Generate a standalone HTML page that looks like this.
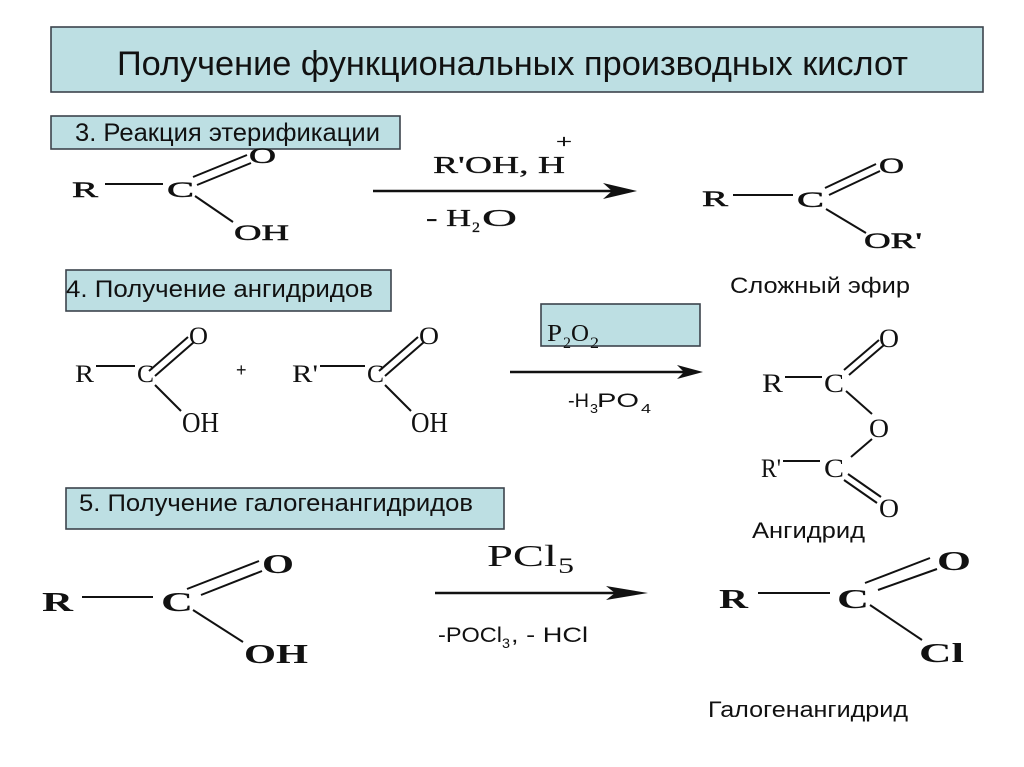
<!DOCTYPE html>
<html><head><meta charset="utf-8"><style>
html,body{margin:0;padding:0;background:#fff;}
svg{display:block;}
.s{font-family:"Liberation Sans","DejaVu Sans",sans-serif;fill:#111;}
.r{font-family:"Liberation Serif","DejaVu Serif",serif;fill:#111;}
.b{stroke:#111;stroke-width:2;fill:none;}
.box{fill:#bddfe3;stroke:#3c444c;stroke-width:1.6;}
</style></head><body>
<svg width="1024" height="767" viewBox="0 0 1024 767" xmlns="http://www.w3.org/2000/svg">
<rect x="0" y="0" width="1024" height="767" fill="#fff"/>

<!-- Title -->
<rect class="box" x="51" y="27" width="932" height="65"/>
<text class="s" x="117" y="75" font-size="34" textLength="791" lengthAdjust="spacingAndGlyphs">Получение функциональных производных кислот</text>

<!-- Section 3 -->
<rect class="box" x="51" y="116" width="349" height="33"/>
<text class="s" x="75" y="141" font-size="25" textLength="305" lengthAdjust="spacingAndGlyphs">3. Реакция этерификации</text>

<g class="r" font-size="22" stroke="#111" stroke-width="0.5">
<text x="72" y="197" textLength="26" lengthAdjust="spacingAndGlyphs">R</text>
<text x="167" y="197" textLength="27" lengthAdjust="spacingAndGlyphs">C</text>
<text x="249" y="163" textLength="27" lengthAdjust="spacingAndGlyphs">O</text>
<text x="234" y="240" textLength="55" lengthAdjust="spacingAndGlyphs">OH</text>
</g>
<line class="b" x1="105" y1="184" x2="163" y2="184"/>
<line class="b" x1="193" y1="177" x2="247" y2="155"/>
<line class="b" x1="197" y1="185" x2="251" y2="163"/>
<line class="b" x1="195" y1="196" x2="233" y2="222"/>

<line x1="373" y1="191" x2="612" y2="191" stroke="#111" stroke-width="2.5"/>
<polygon points="637,191 603,183 612,191 603,199" fill="#111"/>
<g class="r" font-size="24" stroke="#111" stroke-width="0.3">
<text x="433" y="173" textLength="132" lengthAdjust="spacingAndGlyphs">R'OH, H</text>
<text x="556" y="148" font-size="19" textLength="16" lengthAdjust="spacingAndGlyphs">+</text>
<text x="426" y="226" textLength="45" lengthAdjust="spacingAndGlyphs">- H</text>
<text x="472" y="232" font-size="15" textLength="8" lengthAdjust="spacingAndGlyphs">2</text>
<text x="482" y="226" textLength="35" lengthAdjust="spacingAndGlyphs">O</text>
</g>

<g class="r" font-size="22" stroke="#111" stroke-width="0.5">
<text x="702" y="206" textLength="26" lengthAdjust="spacingAndGlyphs">R</text>
<text x="797" y="207" textLength="27" lengthAdjust="spacingAndGlyphs">C</text>
<text x="879" y="173" textLength="25" lengthAdjust="spacingAndGlyphs">O</text>
<text x="864" y="248" textLength="58" lengthAdjust="spacingAndGlyphs">OR'</text>
</g>
<line class="b" x1="733" y1="195" x2="793" y2="195"/>
<line class="b" x1="825" y1="188" x2="876" y2="164"/>
<line class="b" x1="829" y1="195" x2="880" y2="171"/>
<line class="b" x1="826" y1="209" x2="866" y2="233"/>
<text class="s" x="730" y="293" font-size="22" textLength="180" lengthAdjust="spacingAndGlyphs">Сложный эфир</text>

<!-- Section 4 -->
<rect class="box" x="66" y="270" width="325" height="41"/>
<text class="s" x="66" y="297" font-size="24" textLength="307" lengthAdjust="spacingAndGlyphs">4. Получение ангидридов</text>

<g class="r" font-size="25">
<text x="75" y="382" textLength="19" lengthAdjust="spacingAndGlyphs">R</text>
<text x="137" y="382" textLength="17" lengthAdjust="spacingAndGlyphs">C</text>
<text x="189" y="344" textLength="19" lengthAdjust="spacingAndGlyphs">O</text>
<text x="182" y="432" font-size="28" textLength="37" lengthAdjust="spacingAndGlyphs">OH</text>
<text x="292" y="382" textLength="26" lengthAdjust="spacingAndGlyphs">R'</text>
<text x="367" y="382" textLength="17" lengthAdjust="spacingAndGlyphs">C</text>
<text x="419" y="344" textLength="20" lengthAdjust="spacingAndGlyphs">O</text>
<text x="411" y="432" font-size="28" textLength="37" lengthAdjust="spacingAndGlyphs">OH</text>
</g>
<line class="b" x1="96" y1="366" x2="135" y2="366"/>
<line class="b" x1="149" y1="371" x2="188" y2="337"/>
<line class="b" x1="155" y1="376" x2="194" y2="342"/>
<line class="b" x1="155" y1="385" x2="181" y2="411"/>
<text class="s" x="236" y="376" font-size="18">+</text>
<line class="b" x1="320" y1="366" x2="365" y2="366"/>
<line class="b" x1="379" y1="371" x2="418" y2="337"/>
<line class="b" x1="385" y1="376" x2="424" y2="342"/>
<line class="b" x1="385" y1="385" x2="411" y2="411"/>

<rect class="box" x="541" y="304" width="159" height="42"/>
<g class="r" font-size="24">
<text x="547" y="341" textLength="15" lengthAdjust="spacingAndGlyphs">P</text>
<text x="563" y="348" font-size="16" textLength="8" lengthAdjust="spacingAndGlyphs">2</text>
<text x="571" y="341" textLength="18" lengthAdjust="spacingAndGlyphs">O</text>
<text x="590" y="348" font-size="16" textLength="9" lengthAdjust="spacingAndGlyphs">2</text>
</g>
<line x1="510" y1="372" x2="684" y2="372" stroke="#111" stroke-width="2.5"/>
<polygon points="703,372 677,365 684,372 677,379" fill="#111"/>
<g class="s" font-size="19">
<text x="568" y="407" textLength="21" lengthAdjust="spacingAndGlyphs">-H</text>
<text x="590" y="413" font-size="13" textLength="8" lengthAdjust="spacingAndGlyphs">3</text>
<text x="597" y="407" textLength="42" lengthAdjust="spacingAndGlyphs">PO</text>
<text x="641" y="413" font-size="13" textLength="10" lengthAdjust="spacingAndGlyphs">4</text>
</g>

<g class="r" font-size="26">
<text x="762" y="392" textLength="21" lengthAdjust="spacingAndGlyphs">R</text>
<text x="824" y="392" textLength="20" lengthAdjust="spacingAndGlyphs">C</text>
<text x="879" y="347" textLength="20" lengthAdjust="spacingAndGlyphs">O</text>
<text x="869" y="437" textLength="20" lengthAdjust="spacingAndGlyphs">O</text>
<text x="761" y="477" textLength="20" lengthAdjust="spacingAndGlyphs">R'</text>
<text x="824" y="477" textLength="20" lengthAdjust="spacingAndGlyphs">C</text>
<text x="879" y="517" textLength="20" lengthAdjust="spacingAndGlyphs">O</text>
</g>
<line class="b" x1="785" y1="377" x2="822" y2="377"/>
<line class="b" x1="844" y1="370" x2="879" y2="340"/>
<line class="b" x1="849" y1="375" x2="884" y2="345"/>
<line class="b" x1="846" y1="391" x2="872" y2="414"/>
<line class="b" x1="872" y1="439" x2="851" y2="457"/>
<line class="b" x1="783" y1="461" x2="820" y2="461"/>
<line class="b" x1="848" y1="474" x2="881" y2="497"/>
<line class="b" x1="844" y1="480" x2="877" y2="503"/>
<text class="s" x="752" y="538" font-size="22" textLength="113" lengthAdjust="spacingAndGlyphs">Ангидрид</text>

<!-- Section 5 -->
<rect class="box" x="66" y="488" width="438" height="41"/>
<text class="s" x="79" y="511" font-size="24" textLength="394" lengthAdjust="spacingAndGlyphs">5. Получение галогенангидридов</text>

<g class="r" font-size="27" font-weight="bold">
<text x="42" y="611" textLength="31" lengthAdjust="spacingAndGlyphs">R</text>
<text x="161" y="611" textLength="32" lengthAdjust="spacingAndGlyphs">C</text>
<text x="262" y="573" textLength="32" lengthAdjust="spacingAndGlyphs">O</text>
<text x="244" y="663" textLength="64" lengthAdjust="spacingAndGlyphs">OH</text>
</g>
<line class="b" x1="82" y1="597" x2="153" y2="597" stroke-width="2.2"/>
<line class="b" x1="187" y1="589" x2="259" y2="561" stroke-width="2.2"/>
<line class="b" x1="201" y1="595" x2="262" y2="571" stroke-width="2.2"/>
<line class="b" x1="193" y1="610" x2="243" y2="642" stroke-width="2.2"/>

<line x1="435" y1="593" x2="615" y2="593" stroke="#111" stroke-width="2.5"/>
<polygon points="648,593 606,586 615,593 606,600" fill="#111"/>
<g class="r" font-size="31">
<text x="487" y="566" textLength="70" lengthAdjust="spacingAndGlyphs">PCl</text>
<text x="558" y="573" font-size="22" textLength="16" lengthAdjust="spacingAndGlyphs">5</text>
</g>
<g class="s" font-size="21">
<text x="438" y="642" textLength="64" lengthAdjust="spacingAndGlyphs">-POCl</text>
<text x="502" y="648" font-size="14" textLength="8" lengthAdjust="spacingAndGlyphs">3</text>
<text x="511" y="642" textLength="77" lengthAdjust="spacingAndGlyphs">, - HCl</text>
</g>

<g class="r" font-size="27" font-weight="bold">
<text x="719" y="608" textLength="29" lengthAdjust="spacingAndGlyphs">R</text>
<text x="837" y="608" textLength="32" lengthAdjust="spacingAndGlyphs">C</text>
<text x="937" y="570" textLength="34" lengthAdjust="spacingAndGlyphs">O</text>
<text x="919" y="662" textLength="45" lengthAdjust="spacingAndGlyphs">Cl</text>
</g>
<line class="b" x1="758" y1="593" x2="830" y2="593" stroke-width="2.2"/>
<line class="b" x1="865" y1="583" x2="930" y2="558" stroke-width="2.2"/>
<line class="b" x1="878" y1="590" x2="937" y2="569" stroke-width="2.2"/>
<line class="b" x1="870" y1="605" x2="922" y2="640" stroke-width="2.2"/>
<text class="s" x="708" y="717" font-size="22" textLength="200" lengthAdjust="spacingAndGlyphs">Галогенангидрид</text>
</svg>
</body></html>
